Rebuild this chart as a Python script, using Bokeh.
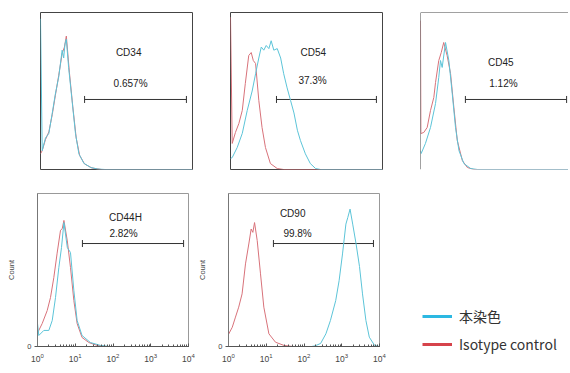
import numpy as np
from bokeh.plotting import figure
from bokeh.layouts import column, row
from bokeh.models import (Range1d, Whisker, TeeHead, ColumnDataSource, FixedTicker,
                          Legend, LegendItem, Span)
from bokeh.core.properties import value
from bokeh.embed import file_html
from bokeh.resources import INLINE

CYAN = "#5cc4d8"
RED = "#d8727a"
LEG_CYAN = "#2cb8e2"
LEG_RED = "#d6434b"
FONT = "Liberation Sans"

markers = ["CD34", "CD54", "CD45", "CD44H", "CD90"]
percents = ["0.657%", "37.3%", "1.12%", "2.82%", "99.8%"]

# ---- histogram curves: log10(fluorescence) and relative count (frame top = 100)
cd34_stain_log = [0, 0.045, 0.13, 0.22, 0.31, 0.39, 0.48, 0.57, 0.61, 0.645, 0.68, 0.74, 0.83, 0.92, 1.01, 1.14, 1.32, 1.5, 1.7, 4.0]
cd34_stain_cnt = [96, 12, 20, 23, 36, 48, 59, 76, 71, 80, 83, 65, 44, 23, 10, 4, 1.3, 0.3, 0, 0]
cd34_iso_log = [0, 0.045, 0.13, 0.22, 0.31, 0.39, 0.48, 0.57, 0.63, 0.68, 0.76, 0.85, 0.94, 1.03, 1.16, 1.35, 1.6, 4.0]
cd34_iso_cnt = [10, 12, 19, 24, 35, 47, 60, 74, 78, 85, 62, 40, 20, 9, 3.5, 1, 0, 0]

cd54_stain_log = [0, 0.045, 0.176, 0.31, 0.44, 0.57, 0.66, 0.745, 0.81, 0.876, 0.94, 1.01, 1.07, 1.14, 1.23, 1.32, 1.40, 1.49, 1.58, 1.67, 1.76, 1.84, 1.97, 2.1, 2.24, 2.37, 4.0]
cd54_stain_cnt = [7, 7.6, 14, 23, 37.6, 50, 61, 71, 78, 76, 79, 77, 82, 76, 77, 71, 61, 52, 44, 36, 25, 18.5, 10, 3.8, 0.6, 0, 0]
cd54_iso_log = [0, 0.045, 0.13, 0.22, 0.31, 0.39, 0.48, 0.545, 0.6, 0.66, 0.745, 0.83, 0.92, 1.05, 1.23, 1.4, 4.0]
cd54_iso_cnt = [97, 16.6, 23.6, 29.3, 37.6, 54.8, 72.6, 74.5, 69.4, 67.5, 44, 26.8, 14, 3.8, 0.6, 0, 0]

cd45_stain_log = [0, 0.018, 0.13, 0.263, 0.395, 0.48, 0.526, 0.57, 0.658, 0.745, 0.834, 0.92, 1.01, 1.14, 1.32, 1.5, 4.0]
cd45_stain_cnt = [12, 10.2, 16.6, 26.8, 42, 58.6, 69.4, 65, 80.9, 69.4, 48.4, 26.8, 12.1, 3.8, 0.6, 0, 0]
cd45_iso_log = [0, 0.01, 0.087, 0.176, 0.263, 0.35, 0.395, 0.48, 0.545, 0.61, 0.7, 0.79, 0.877, 0.966, 1.1, 1.23, 1.4, 4.0]
cd45_iso_cnt = [94.8, 22.9, 23.6, 26.8, 37.6, 45.9, 55.4, 69.4, 74.5, 80.9, 72.6, 61.1, 39.5, 18.5, 5.7, 1.3, 0, 0]

cd44h_stain_log = [0, 0.034, 0.167, 0.3, 0.39, 0.477, 0.565, 0.636, 0.7, 0.79, 0.874, 0.963, 1.05, 1.18, 1.4, 1.67, 1.9, 4.0]
cd44h_stain_cnt = [15, 7.2, 10.5, 10.5, 17, 32, 51.6, 64.7, 81, 64.7, 61.4, 36.6, 17, 7.2, 2.6, 0.7, 0, 0]
cd44h_iso_log = [0, 0.034, 0.124, 0.257, 0.344, 0.432, 0.52, 0.61, 0.655, 0.7, 0.79, 0.874, 0.963, 1.05, 1.18, 1.36, 1.58, 1.8, 4.0]
cd44h_iso_cnt = [9, 10.5, 15, 23.5, 32, 45, 61, 76, 77, 82.4, 69, 51.6, 30, 15, 5.9, 2.6, 0.7, 0, 0]

cd90_stain_log = [0, 2.2, 2.3, 2.44, 2.58, 2.7, 2.84, 2.93, 3.02, 3.11, 3.16, 3.22, 3.29, 3.38, 3.47, 3.55, 3.64, 3.73, 3.87, 4.0]
cd90_stain_cnt = [0, 0, 0.5, 2, 8.3, 17, 30, 43, 60.5, 80, 84.3, 89.8, 80, 67, 52.3, 34.4, 17, 6.1, 0.7, 0]
cd90_iso_log = [0, 0.008, 0.1, 0.185, 0.27, 0.36, 0.45, 0.538, 0.6, 0.645, 0.69, 0.76, 0.848, 0.936, 1.07, 1.245, 1.47, 1.7, 4.0]
cd90_iso_cnt = [9, 8.3, 12.6, 19.2, 25.7, 34.4, 54, 67, 76.8, 74.6, 81, 69.3, 47.5, 25.7, 8.3, 2.8, 0.7, 0, 0]

stain_logs = [cd34_stain_log, cd54_stain_log, cd45_stain_log, cd44h_stain_log, cd90_stain_log]
stain_cnts = [cd34_stain_cnt, cd54_stain_cnt, cd45_stain_cnt, cd44h_stain_cnt, cd90_stain_cnt]
iso_logs = [cd34_iso_log, cd54_iso_log, cd45_iso_log, cd44h_iso_log, cd90_iso_log]
iso_cnts = [cd34_iso_cnt, cd54_iso_cnt, cd45_iso_cnt, cd44h_iso_cnt, cd90_iso_cnt]

# ---- gate bars and labels (log10 positions, relative count)
gate_lo_log = [1.16, 1.21, 1.18, 1.19, 1.19]
gate_hi_log = [3.84, 3.84, 3.84, 3.87, 3.84]
gate_y = [44.6, 44.6, 44.6, 67.3, 67.3]
name_log = [2.32, 2.18, 2.11, 2.33, 1.70]
name_y = [74.5, 74.5, 68, 84.3, 86.9]
pct_log = [2.37, 2.16, 2.18, 2.28, 1.83]
pct_y = [54.8, 56.7, 54.8, 73.9, 73.9]

x_decade_max = [4.0, 4.0, 3.89, 4.0, 4.0]

legend_labels = ["本染色", "Isotype control"]


def make_panel(i, width, height, bl, br, bt, bb, bottom_row):
    kw = dict(width=width, height=height, output_backend="svg", toolbar_location=None,
              x_axis_type="log", x_range=Range1d(1, 10 ** x_decade_max[i]),
              y_range=Range1d(0, 100),
              min_border_left=bl, min_border_right=br, min_border_top=bt, min_border_bottom=bb,
              background_fill_color="white", border_fill_color="white")
    if not bottom_row:
        kw.update(x_axis_location=None, y_axis_location=None)
    p = figure(**kw)
    p.xgrid.visible = False
    p.ygrid.visible = False
    p.outline_line_color = "#444444"
    p.outline_line_width = 1

    p.line(10 ** np.array(iso_logs[i]), iso_cnts[i], line_color=RED, line_width=1)
    p.line(10 ** np.array(stain_logs[i]), stain_cnts[i], line_color=CYAN, line_width=1)

    src = ColumnDataSource(dict(lo=[10 ** gate_lo_log[i]], hi=[10 ** gate_hi_log[i]], y=[gate_y[i]]))
    w = Whisker(source=src, base="y", lower="lo", upper="hi", dimension="width",
                line_color="#333333", line_width=1,
                lower_head=TeeHead(size=7, line_color="#333333", line_width=1),
                upper_head=TeeHead(size=7, line_color="#333333", line_width=1))
    p.add_layout(w)

    p.text(x=[10 ** name_log[i], 10 ** pct_log[i]], y=[name_y[i], pct_y[i]],
           text=[markers[i], percents[i]], text_font=value(FONT), text_font_size="10px",
           text_align="center", text_baseline="middle", text_color="#222222")

    if bottom_row:
        p.outline_line_color = "#999999"
        xa = p.xaxis[0]
        xa.axis_line_color = "#555555"
        xa.major_tick_line_color = "#555555"
        xa.minor_tick_line_color = "#555555"
        xa.major_tick_in = 3
        xa.major_tick_out = 0
        xa.minor_tick_in = 2
        xa.minor_tick_out = 0
        xa.major_label_standoff = 6
        xa.major_label_text_font = FONT
        xa.major_label_text_font_size = "8.5px"
        xa.major_label_text_color = "#444444"
        ya = p.yaxis[0]
        ya.ticker = FixedTicker(ticks=[0])
        ya.axis_line_color = "#777777"
        ya.major_tick_line_color = "#555555"
        ya.major_tick_in = 0
        ya.major_tick_out = 3
        ya.minor_tick_line_color = None
        ya.major_label_standoff = 3
        ya.major_label_text_font = FONT
        ya.major_label_text_font_size = "7.5px"
        ya.major_label_text_color = "#444444"
        ya.axis_label = "Count"
        ya.axis_label_text_font = FONT
        ya.axis_label_text_font_style = "normal"
        ya.axis_label_text_font_size = "7.5px"
        ya.axis_label_text_color = "#444444"
        ya.axis_label_standoff = 8
    return p


p1 = make_panel(0, 211, 181, 40, 19, 12, 12, False)
p2 = make_panel(1, 190, 181, 19, 19, 12, 12, False)
p3 = make_panel(2, 167, 181, 19, 0, 12, 12, False)
p3.outline_line_color = None
p3.add_layout(Span(location=100, dimension="width", line_color="#444444", line_width=1))
p3.add_layout(Span(location=1, dimension="height", line_color="#444444", line_width=1))

p4 = make_panel(3, 195, 186, 37, 7, 12, 21, True)
p5 = make_panel(4, 206, 186, 33, 22, 12, 21, True)

# legend panel: swatches drawn from the CD90 series (hidden), legend colours
p6 = figure(width=167, height=186, output_backend="svg", toolbar_location=None,
            x_axis_type="log", x_range=Range1d(1, 10 ** 4), y_range=Range1d(0, 100),
            x_axis_location=None, y_axis_location=None,
            min_border_left=0, min_border_right=0, min_border_top=12, min_border_bottom=0)
p6.outline_line_color = None
p6.xgrid.visible = False
p6.ygrid.visible = False
r_stain = p6.line(10 ** np.array(cd90_stain_log), cd90_stain_cnt, line_color=LEG_CYAN, line_width=3, visible=False)
r_iso = p6.line(10 ** np.array(cd90_iso_log), cd90_iso_cnt, line_color=LEG_RED, line_width=3, visible=False)
leg = Legend(items=[LegendItem(label=legend_labels[0], renderers=[r_stain]),
                    LegendItem(label=legend_labels[1], renderers=[r_iso])],
             location=(2, 13), margin=0, padding=0, spacing=8, glyph_width=30, glyph_height=16,
             label_height=20, label_standoff=7, border_line_color=None,
             background_fill_alpha=0, label_text_font="Noto Sans CJK JP",
             label_text_font_size="14px", label_text_color="#333333")
p6.add_layout(leg)

layout = row(column(row(p1, p2), row(p4, p5)), column(p3, p6))

open("out.html", "w").write(file_html(layout, INLINE))
